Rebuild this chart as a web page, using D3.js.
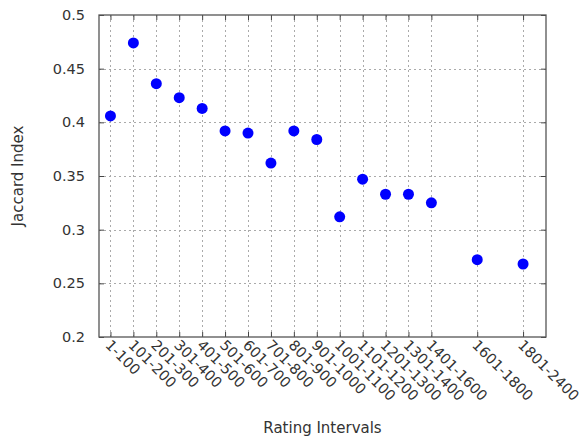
<!DOCTYPE html>
<html>
<head>
<meta charset="utf-8">
<script src="https://cdn.jsdelivr.net/npm/d3@7"></script>
<style>
  body { margin: 0; background: #fff; }
  text { font-family: "DejaVu Sans", sans-serif; fill: #333; }
</style>
</head>
<body>
<svg id="chart" width="584" height="438"></svg>
<script>
// rating intervals and their x slot (gnuplot-style numeric positions)
const categories = ['1-100', '101-200', '201-300', '301-400', '401-500', '501-600', '601-700',
  '701-800', '801-900', '901-1000', '1001-1100', '1101-1200', '1201-1300', '1301-1400',
  '1401-1600', '1601-1800', '1801-2400']
const positions = [1, 2, 3, 4, 5, 6, 7, 8, 9, 10, 11, 12, 13, 14, 15, 17, 19]
const jaccard = [0.406, 0.474, 0.436, 0.423, 0.413, 0.392, 0.390, 0.362, 0.392, 0.384,
  0.312, 0.347, 0.333, 0.333, 0.325, 0.272, 0.268]
const yTicks = [0.2, 0.25, 0.3, 0.35, 0.4, 0.45, 0.5]

const frame = { left: 99, right: 546, top: 15, bottom: 337 }

const svg = d3.select('#chart')

const x = d3.scaleLinear().domain([0.5, 20]).range([frame.left, frame.right])
const y = d3.scaleLinear().domain([0.2, 0.5]).range([frame.bottom, frame.top])

// grid
const grid = svg.append('g')
  .attr('stroke', '#aaa')
  .attr('stroke-width', 1)
  .attr('stroke-dasharray', '2,3')

grid.selectAll('line.v')
  .data(positions)
  .enter()
  .append('line')
  .attr('class', 'v')
  .attr('x1', (d) => Math.round(x(d)) + 0.5)
  .attr('x2', (d) => Math.round(x(d)) + 0.5)
  .attr('y1', frame.top)
  .attr('y2', frame.bottom)

grid.selectAll('line.h')
  .data(yTicks.slice(1, -1))
  .enter()
  .append('line')
  .attr('class', 'h')
  .attr('y1', (d) => Math.round(y(d)) + 0.5)
  .attr('y2', (d) => Math.round(y(d)) + 0.5)
  .attr('x1', frame.left)
  .attr('x2', frame.right)

// axes with inward ticks
const yAxisL = d3.axisLeft(y).tickValues(yTicks).tickSize(-5).tickFormat(d3.format('')).tickPadding(14)
const yAxisR = d3.axisRight(y).tickValues(yTicks).tickSize(-5).tickFormat('')
const xAxisB = d3.axisBottom(x).tickValues(positions).tickSize(-5).tickFormat('')
const xAxisT = d3.axisTop(x).tickValues(positions).tickSize(-5).tickFormat('')

svg.append('g').attr('transform', `translate(${frame.left},0)`).call(yAxisL)
svg.append('g').attr('transform', `translate(${frame.right},0)`).call(yAxisR)
svg.append('g').attr('transform', `translate(0,${frame.bottom})`).call(xAxisB)
svg.append('g').attr('transform', `translate(0,${frame.top})`).call(xAxisT)

svg.selectAll('.domain').remove()
svg.selectAll('.tick line').attr('stroke', '#444')
svg.selectAll('.tick text')
  .style('font-size', '14.5px')
  .attr('fill', '#333')

svg.append('rect')
  .attr('x', frame.left)
  .attr('y', frame.top)
  .attr('width', frame.right - frame.left)
  .attr('height', frame.bottom - frame.top)
  .attr('fill', 'none')
  .attr('stroke', '#555')
  .attr('stroke-width', 1.3)

// rotated category labels
svg.append('g')
  .selectAll('text')
  .data(categories)
  .enter()
  .append('text')
  .attr('transform', (d, i) => `translate(${x(positions[i]) - 6},${frame.bottom + 9}) rotate(45)`)
  .style('font-size', '14.5px')
  .text((d) => d)

// points
svg.append('g')
  .selectAll('circle')
  .data(jaccard)
  .enter()
  .append('circle')
  .attr('cx', (d, i) => x(positions[i]))
  .attr('cy', (d) => y(d))
  .attr('r', 5.5)
  .attr('fill', '#0000ff')

// axis titles
svg.append('text')
  .attr('x', (frame.left + frame.right) / 2)
  .attr('y', 433)
  .attr('text-anchor', 'middle')
  .style('font-size', '15px')
  .text('Rating Intervals')

svg.append('text')
  .attr('transform', `translate(23,${(frame.top + frame.bottom) / 2}) rotate(-90)`)
  .attr('text-anchor', 'middle')
  .style('font-size', '15px')
  .text('Jaccard Index')
</script>
</body>
</html>
